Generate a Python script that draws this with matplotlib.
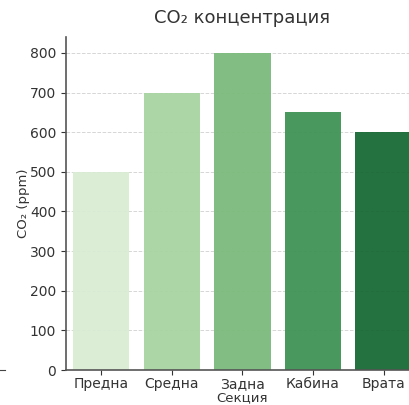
import matplotlib.pyplot as plt

sections = ['Предна', 'Средна', 'Задна', 'Кабина', 'Врата']
co2 = [500, 700, 800, 650, 600]
colors = ['#d9ecd3', '#a9d4a2', '#7bbb7c', '#3f9456', '#186a35']

plt.rcParams['font.family'] = ['DejaVu Sans']

fig = plt.figure(figsize=(4.09, 4.05), dpi=100)

# remnant of the neighbouring subplot on the left edge
ax0 = fig.add_axes([-0.3, 0.0864, 0.312, 0.822])
ax0.set_xticks([])
ax0.set_yticks([])
for s in ['top', 'right', 'left']:
    ax0.spines[s].set_visible(False)
ax0.spines['bottom'].set_color('#444444')

ax = fig.add_axes([0.161, 0.0864, 0.863, 0.822])
ax.bar(sections, co2, color=colors, width=0.8, alpha=0.95, zorder=2)
ax.set_xlim(-0.5, 4.5)
ax.set_ylim(0, 840)
ax.set_yticks(range(0, 801, 100))
ax.grid(axis='y', color='#cccccc', linestyle='--', linewidth=0.7, alpha=0.8, zorder=0)
ax.set_axisbelow(True)
for s in ['top', 'right']:
    ax.spines[s].set_visible(False)
for s in ['left', 'bottom']:
    ax.spines[s].set_color('#555555')
    ax.spines[s].set_linewidth(1.2)
ax.tick_params(colors='#333333', labelsize=10, length=3.5)
ax.tick_params(axis='x', pad=1.5)
ax.set_title('CO₂ концентрация', fontsize=13, color='#333333', pad=10)
ax.set_xlabel('Секция', fontsize=9.5, color='#333333', labelpad=0)
ax.set_ylabel('CO₂ (ppm)', fontsize=9.5, color='#333333', labelpad=0)

fig.savefig('out.png', dpi=100)
